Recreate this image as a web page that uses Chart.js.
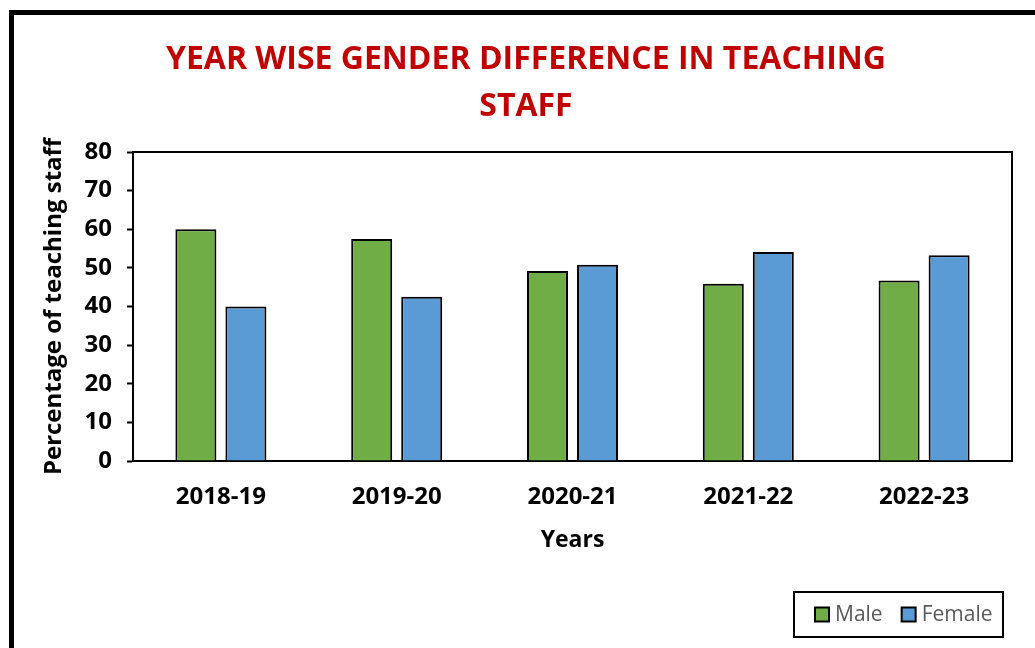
<!DOCTYPE html>
<html>
<head>
<meta charset="utf-8">
<script src="https://cdn.jsdelivr.net/npm/chart.js@4"></script>
<style>
  html, body { margin: 0; padding: 0; background: #fff; overflow: hidden; }
  #frame { position: absolute; left: 9px; top: 10px; width: 1100px; height: 700px; border: 5px solid #000; box-sizing: border-box; }
  #chart { position: absolute; left: 0; top: 0; }
</style>
</head>
<body>
<div id="frame"></div>
<canvas id="chart" width="1035" height="648"></canvas>
<script>
// Data
const years = ['2018-19', '2019-20', '2020-21', '2021-22', '2022-23'];
const maleValues = [60.0, 57.5, 49.2, 45.9, 46.7];
const femaleValues = [40.0, 42.5, 50.8, 54.1, 53.3];
const seriesNames = ['Male', 'Female'];
const seriesColors = ['#70AD47', '#5B9BD5'];
const titleLines = ['YEAR WISE GENDER DIFFERENCE IN TEACHING', 'STAFF'];
const yMin = 0, yMax = 80, yStep = 10;

const FONT = "'Open Sans', sans-serif";

// title drawn above the plot
const titlePlugin = {
  id: 'titleText',
  afterDraw(chart) {
    const ctx = chart.ctx;
    ctx.save();
    ctx.fillStyle = '#C00000';
    ctx.font = "bold 32px " + FONT;
    ctx.textAlign = 'center';
    ctx.textBaseline = 'alphabetic';
    ctx.fillText(titleLines[0], 526, 69);
    ctx.fillText(titleLines[1], 526, 116);
    ctx.restore();
  }
};

// top and right edges of the plot box
const plotBox = {
  id: 'plotBox',
  afterDatasetsDraw(chart) {
    const a = chart.chartArea;
    const ctx = chart.ctx;
    ctx.save();
    ctx.strokeStyle = '#000';
    ctx.lineWidth = 2;
    ctx.beginPath();
    ctx.moveTo(a.left, a.top);
    ctx.lineTo(a.right, a.top);
    ctx.lineTo(a.right, a.bottom);
    ctx.stroke();
    ctx.restore();
  }
};

// boxed legend at the bottom right
const boxLegend = {
  id: 'boxLegend',
  afterDraw(chart) {
    const ctx = chart.ctx;
    const a = chart.chartArea;
    const right = a.right - 9, top = 592, w = 209, h = 45;
    ctx.save();
    ctx.strokeStyle = '#000';
    ctx.lineWidth = 2;
    ctx.strokeRect(right - w, top, w, h);
    ctx.font = "21px " + FONT;
    ctx.textBaseline = 'middle';
    ctx.textAlign = 'left';
    let x = right - w + 21;
    const cy = top + h / 2;
    chart.data.datasets.forEach((ds) => {
      ctx.fillStyle = ds.backgroundColor;
      ctx.fillRect(x, cy - 7, 14, 14);
      ctx.strokeStyle = '#000';
      ctx.lineWidth = 2;
      ctx.strokeRect(x, cy - 7, 14, 14);
      ctx.fillStyle = '#595959';
      ctx.fillText(ds.label, x + 20, cy + 1);
      x += 20 + ctx.measureText(ds.label).width + 19;
    });
    ctx.restore();
  }
};

const ctx = document.getElementById('chart').getContext('2d');
new Chart(ctx, {
  type: 'bar',
  data: {
    labels: years,
    datasets: [
      { label: seriesNames[0], data: maleValues, backgroundColor: seriesColors[0], borderColor: '#000', borderWidth: 2 },
      { label: seriesNames[1], data: femaleValues, backgroundColor: seriesColors[1], borderColor: '#000', borderWidth: 2 }
    ]
  },
  options: {
    responsive: false,
    animation: false,
    datasets: { bar: { categoryPercentage: 0.569, barPercentage: 0.82 } },
    layout: { padding: { top: 152, right: 23, left: 0, bottom: 0 } },
    plugins: {
      legend: { display: false },
      title: { display: false },
      tooltip: { enabled: false }
    },
    scales: {
      x: {
        afterFit(scale) { scale.height = 187; },
        grid: { display: false, drawTicks: false },
        border: { display: true, color: '#000', width: 2 },
        ticks: { color: '#000', font: { family: FONT, size: 24, weight: 'bold' }, padding: 22 },
        title: { display: true, text: 'Years', color: '#000', font: { family: FONT, size: 23, weight: 'bold' }, padding: { bottom: 94 } }
      },
      y: {
        min: yMin, max: yMax,
        afterFit(scale) { scale.width = 133; },
        grid: { display: true, drawOnChartArea: false, drawTicks: true, tickLength: 6, tickWidth: 2, tickColor: '#000' },
        border: { display: true, color: '#000', width: 2 },
        ticks: { stepSize: yStep, color: '#000', font: { family: FONT, size: 24, weight: 'bold' }, padding: 15 },
        title: { display: true, text: 'Percentage of teaching staff', color: '#000', font: { family: FONT, size: 24, weight: 'bold' }, padding: { top: 40 } }
      }
    }
  },
  plugins: [titlePlugin, plotBox, boxLegend]
});
</script>
</body>
</html>
